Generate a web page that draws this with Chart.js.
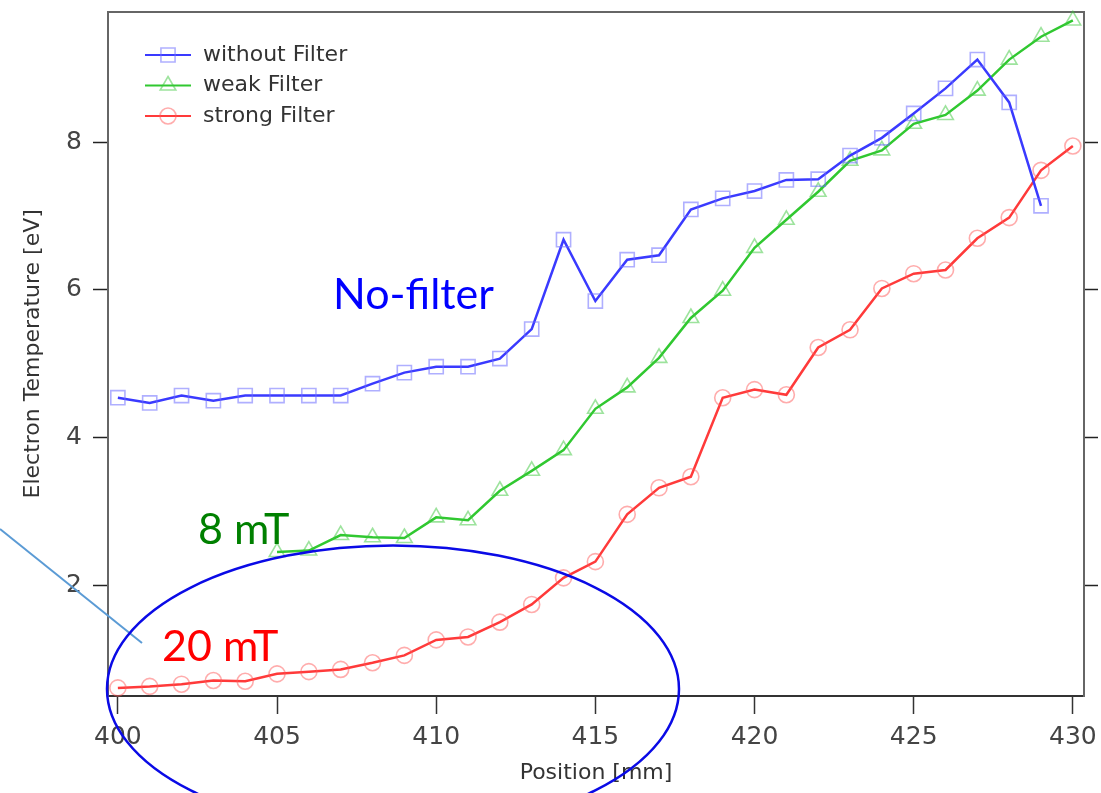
<!DOCTYPE html>
<html>
<head>
<meta charset="utf-8">
<script src="https://cdn.jsdelivr.net/npm/chart.js@4/dist/chart.umd.min.js"></script>
<style>
  html, body { margin: 0; padding: 0; background: #fff; }
  canvas { display: block; }
</style>
</head>
<body>
<canvas id="myChart" width="1101" height="793"></canvas>
<script>
// Electron temperature along the column, three filter settings

const positions = [
  400, 401, 402, 403, 404, 405, 406, 407, 408, 409, 410, 411, 412, 413, 414, 415,
  416, 417, 418, 419, 420, 421, 422, 423, 424, 425, 426, 427, 428, 429, 430,
];
const withoutFilter = [
  4.54, 4.47, 4.57, 4.5, 4.57, 4.57, 4.57, 4.57, 4.73, 4.88, 4.96, 4.96, 5.07, 5.47,
  6.68, 5.85, 6.41, 6.47, 7.09, 7.24, 7.34, 7.49, 7.5, 7.82, 8.06, 8.39, 8.73, 9.12,
  8.54, 7.14, null,
];
const weakFilter = [
  null, null, null, null, null, 2.45, 2.47, 2.68, 2.65, 2.64, 2.92, 2.88, 3.28, 3.55,
  3.83, 4.39, 4.68, 5.08, 5.62, 5.99, 6.57, 6.95, 7.33, 7.75, 7.89, 8.25, 8.37, 8.7,
  9.12, 9.43, 9.65,
];
const strongFilter = [
  0.61, 0.63, 0.66, 0.71, 0.7, 0.8, 0.83, 0.86, 0.95, 1.05, 1.26, 1.3, 1.5, 1.74,
  2.1, 2.32, 2.96, 3.32, 3.47, 4.54, 4.65, 4.58, 5.22, 5.46, 6.02, 6.22, 6.27, 6.7,
  6.98, 7.62, 7.95,
];
const xTickValues = [400, 405, 410, 415, 420, 425, 430];
const yTickValues = [2, 4, 6, 8];

function toPoints(values) {
  return positions.map((x, i) => ({ x: x, y: values[i] }));
}

const axisFont = { family: "DejaVu Sans", size: 22 };
const tickFont = { family: "DejaVu Sans", size: 25 };

function series(label, values, line, marker, style, radius) {
  return {
    label: label,
    data: toPoints(values),
    borderColor: line,
    borderWidth: 2.5,
    pointStyle: style,
    pointRadius: radius,
    pointBorderColor: marker,
    pointBorderWidth: 1.6,
    pointBackgroundColor: "rgba(0,0,0,0)",
    tension: 0,
    clip: false,
  };
}

// no extra room for labels: the frame sits at fixed pixel edges
function noPad(scale) {
  scale.paddingTop = 0;
  scale.paddingBottom = 0;
  scale.paddingLeft = 0;
  scale.paddingRight = 0;
}

// markers for the legend rows, same shapes as the plot
function drawMarker(ctx, style, x, y, r) {
  ctx.beginPath();
  if (style === "rect") {
    const s = Math.SQRT1_2 * r;
    ctx.rect(x - s, y - s, 2 * s, 2 * s);
  } else if (style === "triangle") {
    const dx = Math.sin(Math.PI / 3) * r;
    ctx.moveTo(x, y - r);
    ctx.lineTo(x + dx, y + r / 2);
    ctx.lineTo(x - dx, y + r / 2);
    ctx.closePath();
  } else {
    ctx.arc(x, y, r, 0, Math.PI * 2);
  }
  ctx.stroke();
}

const legendBox = {
  id: "legendBox",
  afterDraw(chart) {
    const ctx = chart.ctx;
    ctx.save();
    chart.data.datasets.forEach((ds, i) => {
      const y = 55 + i * 30.5;
      ctx.strokeStyle = ds.borderColor;
      ctx.lineWidth = 2;
      ctx.beginPath();
      ctx.moveTo(145, y);
      ctx.lineTo(191, y);
      ctx.stroke();
      ctx.strokeStyle = ds.pointBorderColor;
      ctx.lineWidth = ds.pointBorderWidth;
      drawMarker(ctx, ds.pointStyle, 168, y, ds.pointRadius);
      ctx.fillStyle = "#333";
      ctx.font = "22px 'DejaVu Sans'";
      ctx.textBaseline = "middle";
      ctx.textAlign = "left";
      ctx.fillText(ds.label, 203, y);
    });
    ctx.restore();
  },
};

// hand-drawn notes on top of the plot
const notes = {
  id: "notes",
  afterDraw(chart) {
    const ctx = chart.ctx;
    ctx.save();
    ctx.strokeStyle = "#5b9bd5";
    ctx.lineWidth = 2;
    ctx.beginPath();
    ctx.moveTo(0, 529);
    ctx.lineTo(142, 643);
    ctx.stroke();

    ctx.strokeStyle = "#0a0ae6";
    ctx.lineWidth = 2.5;
    ctx.beginPath();
    ctx.ellipse(393, 689, 286, 143.5, 0, 0, Math.PI * 2);
    ctx.stroke();

    ctx.font = "43px Lato";
    ctx.textAlign = "left";
    ctx.textBaseline = "alphabetic";
    ctx.fillStyle = "#0000ff";
    ctx.fillText("No-filter", 333, 309);
    ctx.fillStyle = "#008000";
    ctx.fillText("8 mT", 198, 544);
    ctx.fillStyle = "#ff0000";
    ctx.fillText("20 mT", 162, 661);
    ctx.restore();
  },
};

new Chart(document.getElementById("myChart"), {
  type: "line",
  data: {
    datasets: [
      series("without Filter", withoutFilter, "#3a3aff", "rgba(110,110,255,0.55)", "rect", 10),
      series("weak Filter", weakFilter, "#30c830", "rgba(60,200,60,0.5)", "triangle", 9),
      series("strong Filter", strongFilter, "#ff3a3a", "rgba(255,90,90,0.5)", "circle", 8),
    ],
  },
  options: {
    responsive: false,
    animation: false,
    layout: { padding: 0 },
    plugins: {
      legend: { display: false },
      tooltip: { enabled: false },
    },
    scales: {
      x: {
        type: "linear",
        position: "bottom",
        min: 399.69,
        max: 430.35,
        afterBuildTicks: (scale) => {
          scale.ticks = xTickValues.map((v) => ({ value: v }));
        },
        afterFit: (scale) => {
          scale.height = 97;
          noPad(scale);
        },
        grid: { drawOnChartArea: false, tickLength: 18, tickColor: "#333", tickWidth: 1.5 },
        border: { color: "#333", width: 2 },
        ticks: { font: tickFont, color: "#444", padding: 8, maxRotation: 0 },
        title: {
          display: true,
          text: "Position [mm]",
          font: axisFont,
          color: "#333",
          padding: { top: 0, bottom: 7 },
        },
      },
      xTop: {
        type: "linear",
        position: "top",
        min: 399.69,
        max: 430.35,
        afterFit: (scale) => {
          scale.height = 10;
          noPad(scale);
        },
        grid: { drawOnChartArea: false, drawTicks: false },
        border: { color: "#666", width: 2 },
        ticks: { display: false },
      },
      y: {
        type: "linear",
        position: "left",
        min: 0.5,
        max: 9.77,
        afterBuildTicks: (scale) => {
          scale.ticks = yTickValues.map((v) => ({ value: v }));
        },
        afterFit: (scale) => {
          scale.width = 108;
          noPad(scale);
        },
        grid: { drawOnChartArea: false, tickLength: 15, tickColor: "#222", tickWidth: 1.5 },
        border: { color: "#666", width: 2 },
        ticks: { font: tickFont, color: "#444", padding: 11 },
        title: {
          display: true,
          text: "Electron Temperature [eV]",
          font: axisFont,
          color: "#333",
          padding: { top: 20, bottom: 0 },
        },
      },
      yRight: {
        type: "linear",
        position: "right",
        min: 0.5,
        max: 9.77,
        afterBuildTicks: (scale) => {
          scale.ticks = yTickValues.map((v) => ({ value: v }));
        },
        afterFit: (scale) => {
          scale.width = 17;
          noPad(scale);
        },
        grid: { drawOnChartArea: false, tickLength: 14, tickColor: "#222", tickWidth: 1.5 },
        border: { color: "#666", width: 2 },
        ticks: { display: false },
      },
    },
  },
  plugins: [legendBox, notes],
});
</script>
</body>
</html>
